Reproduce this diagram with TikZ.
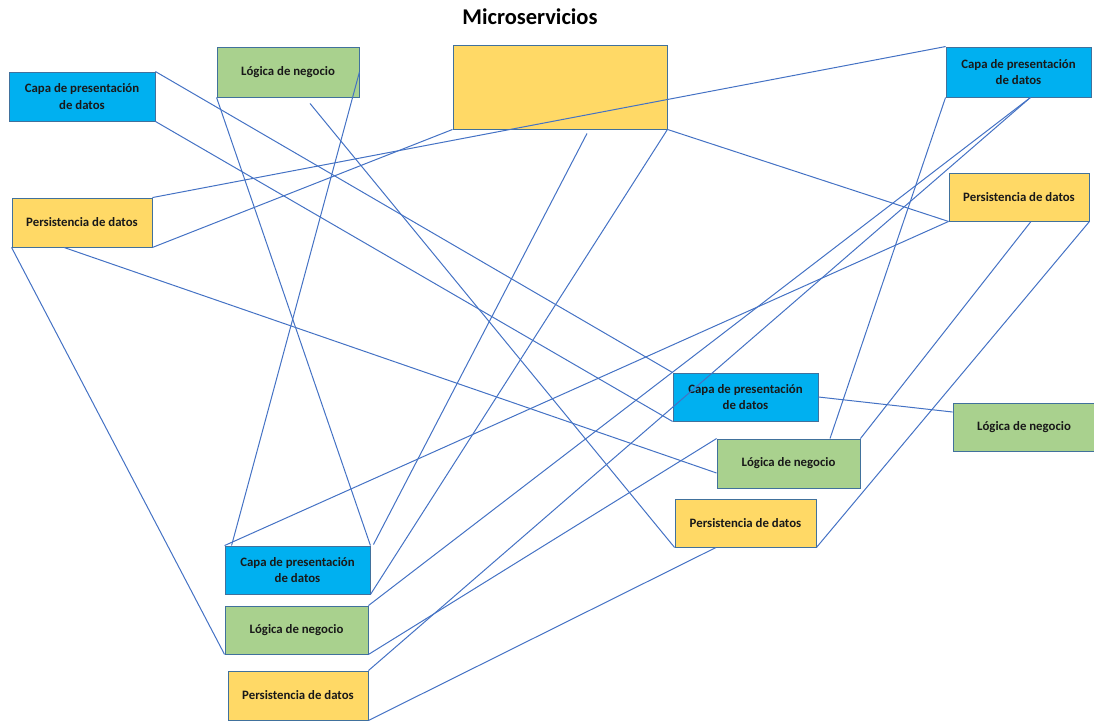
\documentclass[tikz,border=0pt]{standalone}
\usepackage{fontspec}
\setmainfont{Carlito}
\usetikzlibrary{calc}
\definecolor{cpblue}{HTML}{00B0F0}
\definecolor{lngreen}{HTML}{A9D18E}
\definecolor{pdyellow}{HTML}{FFD966}
\definecolor{boxedge}{HTML}{41719C}
\definecolor{wirecol}{HTML}{4472C4}

\begin{document}
\begin{tikzpicture}[x=1pt,y=-1pt,
  box/.style={draw=boxedge, line width=0.9pt, inner sep=0pt, align=center,
              font=\bfseries\fontsize{12.8}{16.5}\selectfont, text=black!90},
  capa/.style={box, fill=cpblue},
  logica/.style={box, fill=lngreen},
  pers/.style={box, fill=pdyellow},
  link/.style={draw=wirecol, line width=1pt}]
\useasboundingbox (0,0) rectangle (1094,721);

% title
\node[font=\bfseries\fontsize{22.5}{26}\selectfont] (title) at (530,17) {Microservicios};

% central block
\node[pers, minimum width=214pt, minimum height=84pt] (big) at (560,87) {};

% boxes
\node[capa,   minimum width=146pt, minimum height=49pt] (cp1) at (82,96.5)    {Capa de presentación\\de datos};
\node[logica, minimum width=142pt, minimum height=50pt] (ln1) at (288,72)     {Lógica de negocio};
\node[pers,   minimum width=140pt, minimum height=49pt] (pd1) at (82,222.5)   {Persistencia de datos};
\node[capa,   minimum width=145pt, minimum height=50pt] (cp2) at (1018.5,72)  {Capa de presentación\\de datos};
\node[pers,   minimum width=140pt, minimum height=48pt] (pd2) at (1019,197)   {Persistencia de datos};
\node[capa,   minimum width=145pt, minimum height=48pt] (cp3) at (745.5,397)  {Capa de presentación\\de datos};
\node[logica, minimum width=142pt, minimum height=48pt] (ln2) at (1024,427)   {Lógica de negocio};
\node[logica, minimum width=143pt, minimum height=49pt] (ln3) at (788.5,463.5){Lógica de negocio};
\node[pers,   minimum width=141pt, minimum height=48pt] (pd3) at (745.5,523)  {Persistencia de datos};
\node[capa,   minimum width=145pt, minimum height=48pt] (cp4) at (297.5,570)  {Capa de presentación\\de datos};
\node[logica, minimum width=143pt, minimum height=48pt] (ln4) at (296.5,630)  {Lógica de negocio};
\node[pers,   minimum width=140pt, minimum height=49pt] (pd4) at (298,695.5)  {Persistencia de datos};

% free end points just below their blocks
\coordinate (lnfree) at ($(ln1.south)+(22,6)$);
\coordinate (bigfree) at ($(big.south)+(27,4)$);

% connectors
\draw[link] (cp1.north east) -- (cp3.north west);
\draw[link] (cp1.south east) -- (cp3.south west);
\draw[link] (ln1.south west) -- (cp4.north east);
\draw[link] (ln1.east) -- ($(cp4.north west)+(7,0)$);
\draw[link] (lnfree) -- (pd3.south west);
\draw[link] (big.south west) -- (pd1.south east);
\draw[link] (pd1.north east) -- (cp2.north west);
\draw[link] (pd1.south west) -- (ln4.south west);
\draw[link] ($(pd1.south)+(-18,0)$) -- ($(ln3.west)+(0,9.5)$);
\draw[link] (bigfree) -- ($(cp4.north east)+(3,-1)$);
\draw[link] (big.south east) -- (cp4.south east);
\draw[link] (big.south east) -- (pd2.south west);
\draw[link] (cp2.south west) -- ($(ln3.north)+(41.5,0)$);
\draw[link] ($(cp2.south)+(12,0)$) -- (ln4.north east);
\draw[link] ($(cp2.south)+(12,0)$) -- (pd4.north east);
\draw[link] (pd2.south west) -- (cp4.north west);
\draw[link] ($(pd2.south)+(12,0)$) -- (ln3.north east);
\draw[link] (pd2.south east) -- (pd3.south east);
\draw[link] (cp3.east) -- ($(ln2.west)+(0,-15)$);
\draw[link] (ln4.south east) -- (ln3.north west);
\draw[link] (pd4.south east) -- ($(pd3.south)+(-29.5,0)$);
\end{tikzpicture}
\end{document}
